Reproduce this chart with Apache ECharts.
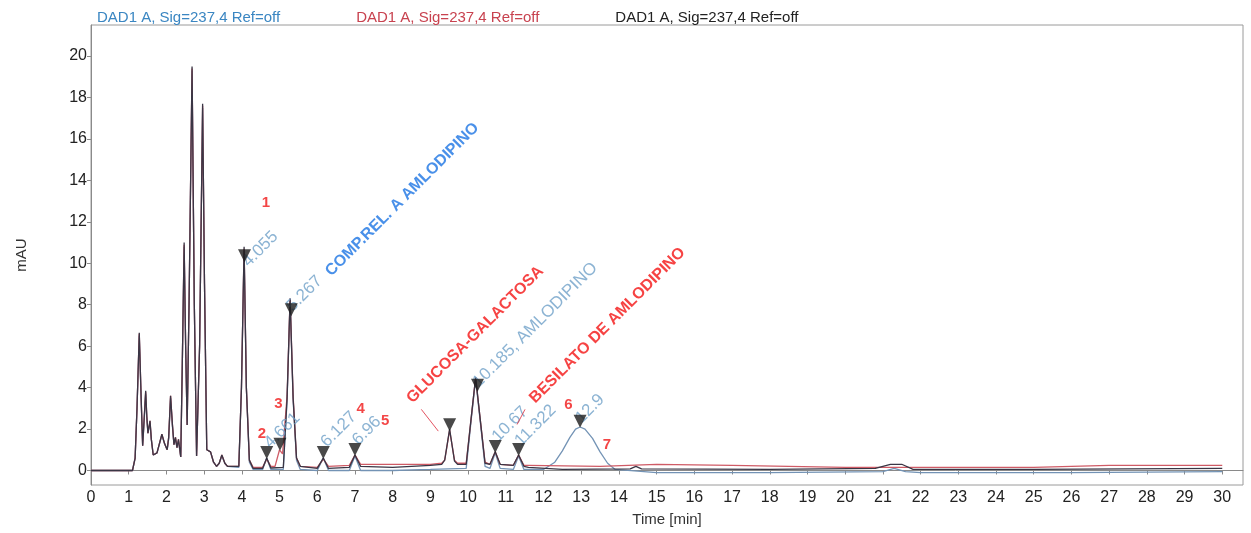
<!DOCTYPE html>
<html><head><meta charset="utf-8">
<script src="https://cdn.jsdelivr.net/npm/echarts@6/dist/echarts.min.js"></script>
<style>html,body{margin:0;padding:0;background:#fff}#c{width:1251px;height:533px}</style>
</head><body><div id="c"></div>
<script>
// ---- data (time [min], mAU) ----
const seriesNames = ['DAD1 A, Sig=237,4 Ref=off #1','DAD1 A, Sig=237,4 Ref=off #2','DAD1 A, Sig=237,4 Ref=off #3'];
const traceBlue = [[0,0],[1.1,0],[1.17,0.6],[1.22,3.0],[1.28,6.5],[1.33,3.4],[1.37,1.2],[1.41,2.4],[1.45,3.7],[1.48,2.5],[1.51,1.8],[1.565,2.3],[1.6,1.5],[1.65,0.75],[1.75,0.85],[1.88,1.7],[1.95,1.3],[2.02,1.0],[2.06,1.5],[2.11,3.5],[2.16,2.1],[2.2,1.25],[2.24,1.5],[2.28,1.1],[2.32,1.4],[2.38,0.65],[2.42,5.0],[2.47,10.8],[2.51,6.0],[2.55,2.2],[2.6,8.0],[2.68,19.3],[2.74,8.0],[2.8,0.7],[2.88,6.0],[2.96,17.5],[3.01,9.0],[3.07,1.0],[3.17,0.9],[3.25,0.4],[3.33,0.2],[3.4,0.35],[3.47,0.7],[3.55,0.35],[3.62,0.2],[3.92,0.15],[3.99,4.0],[4.06,10.6],[4.12,4.0],[4.2,0.4],[4.3,0.05],[4.55,0.05],[4.66,0.6],[4.77,0.05],[5.1,0.05],[5.2,3.4],[5.28,8.2],[5.36,3.4],[5.45,0.5],[5.55,0.05],[6.0,0.0],[6.16,0.6],[6.3,0.0],[6.85,0.0],[7.0,0.7],[7.15,0.0],[8.0,0.0],[9.0,0.05],[9.95,0.1],[10.08,2.4],[10.2,4.4],[10.32,2.4],[10.45,0.2],[10.58,0.1],[10.72,0.85],[10.85,0.1],[11.2,0.05],[11.34,0.7],[11.48,0.05],[12.0,0.05],[12.3,0.4],[12.5,0.95],[12.7,1.6],[12.85,2.0],[12.97,2.1],[13.1,2.0],[13.3,1.55],[13.5,0.9],[13.7,0.35],[13.9,0.05],[15,-0.1],[18,-0.1],[21.0,-0.05],[21.3,0.1],[21.6,-0.05],[22,-0.1],[26,-0.1],[30,-0.05]];
const traceRed = [[0,0],[1.1,0],[1.17,0.6],[1.22,3.0],[1.28,6.6],[1.33,3.5],[1.37,1.2],[1.41,2.5],[1.45,3.8],[1.48,2.6],[1.51,1.8],[1.565,2.4],[1.6,1.5],[1.65,0.75],[1.75,0.85],[1.88,1.75],[1.95,1.3],[2.02,1.0],[2.06,1.6],[2.11,3.6],[2.16,2.2],[2.2,1.25],[2.24,1.6],[2.28,1.1],[2.32,1.5],[2.38,0.65],[2.42,5.0],[2.47,10.9],[2.51,6.0],[2.55,2.2],[2.6,8.0],[2.68,19.4],[2.74,8.0],[2.8,0.7],[2.88,6.0],[2.96,17.6],[3.01,9.0],[3.07,1.0],[3.17,0.9],[3.25,0.4],[3.33,0.2],[3.4,0.35],[3.47,0.75],[3.55,0.35],[3.62,0.2],[3.92,0.2],[3.99,4.0],[4.06,10.7],[4.12,4.0],[4.2,0.5],[4.3,0.15],[4.55,0.15],[4.66,0.55],[4.77,0.2],[4.88,0.2],[5.0,1.0],[5.08,0.8],[5.2,3.6],[5.28,8.3],[5.36,3.6],[5.45,0.6],[5.55,0.2],[6.0,0.15],[6.16,0.55],[6.3,0.2],[6.85,0.25],[7.0,0.75],[7.15,0.3],[8.0,0.3],[9.0,0.3],[9.3,0.35],[9.38,0.5],[9.51,1.95],[9.64,0.5],[9.72,0.35],[9.95,0.35],[10.08,2.5],[10.2,4.5],[10.32,2.5],[10.45,0.4],[10.58,0.3],[10.72,0.9],[10.85,0.3],[11.2,0.25],[11.34,0.75],[11.48,0.25],[11.6,0.25],[13.5,0.2],[15,0.3],[17,0.25],[20,0.15],[25,0.15],[27,0.25],[30,0.25]];
const traceBlack = [[0,0],[1.1,0],[1.17,0.6],[1.22,3.0],[1.28,6.65],[1.33,3.5],[1.37,1.2],[1.41,2.5],[1.45,3.85],[1.48,2.6],[1.51,1.8],[1.565,2.4],[1.6,1.5],[1.65,0.75],[1.75,0.85],[1.88,1.75],[1.95,1.3],[2.02,1.0],[2.06,1.6],[2.11,3.6],[2.16,2.2],[2.2,1.25],[2.24,1.6],[2.28,1.1],[2.32,1.5],[2.38,0.65],[2.42,5.0],[2.47,11.0],[2.51,6.0],[2.55,2.2],[2.6,8.0],[2.68,19.5],[2.74,8.0],[2.8,0.7],[2.88,6.0],[2.96,17.7],[3.01,9.0],[3.07,1.0],[3.17,0.9],[3.25,0.4],[3.33,0.2],[3.4,0.35],[3.47,0.75],[3.55,0.35],[3.62,0.2],[3.92,0.2],[3.99,4.0],[4.06,10.8],[4.12,4.0],[4.2,0.5],[4.3,0.1],[4.55,0.1],[4.66,0.6],[4.77,0.12],[5.1,0.15],[5.2,3.5],[5.28,8.3],[5.36,3.5],[5.45,0.6],[5.55,0.2],[6.0,0.1],[6.16,0.6],[6.3,0.1],[6.85,0.15],[7.0,0.75],[7.15,0.2],[8.0,0.15],[9.0,0.25],[9.3,0.3],[9.38,0.5],[9.51,2.0],[9.64,0.45],[9.72,0.3],[9.95,0.3],[10.08,2.5],[10.2,4.5],[10.32,2.5],[10.45,0.35],[10.58,0.3],[10.72,0.9],[10.85,0.3],[11.2,0.25],[11.34,0.75],[11.48,0.2],[11.6,0.15],[12.5,0.05],[14.3,0.08],[14.45,0.2],[14.6,0.08],[18,0.05],[20.8,0.1],[21.2,0.3],[21.5,0.3],[21.8,0.05],[25,0.05],[30,0.1]];

const peakTimes   = [4.07, 4.66, 5.01, 5.31, 6.16, 7.0, 9.51, 10.25, 10.72, 11.34, 12.97];
const peakMarkerY = [10.05, 0.55, 0.95, 7.45, 0.55, 0.7, 1.9, 3.8, 0.85, 0.7, 2.06];

const rtLabelTimes = [4.14, 4.72, 5.31, 6.22, 7.05, 10.25, 10.76, 11.36, 12.97];
const rtLabelY     = [9.6, 0.85, 7.45, 0.9, 1.0, 3.8, 1.15, 0.95, 2.06];
const rtLabelText  = ['4.055','4.661','5.267','6.127','6.96','10.185, AMLODIPINO','10.67','11.322','12.9'];

const numTimes = [4.64, 4.53, 4.97, 7.15, 7.8, 12.66, 13.68];
const numY     = [12.9, 1.77, 3.24, 2.98, 2.4, 3.19, 1.26];
const numText  = ['1','2','3','4','5','6','7'];

const noteTimes = [6.31, 8.46, 11.72];
const noteY     = [9.13, 3.0, 3.0];
const noteText  = ['COMP.REL. A AMLODIPINO','GLUCOSA-GALACTOSA','BESILATO DE AMLODIPINO'];

const leaderFrom = [[8.76, 2.95],[11.51, 2.95]];
const leaderTo   = [[9.21, 1.9],[11.30, 2.22]];

const xTicks = [0,1,2,3,4,5,6,7,8,9,10,11,12,13,14,15,16,17,18,19,20,21,22,23,24,25,26,27,28,29,30];
const yTicks = [0,2,4,6,8,10,12,14,16,18,20];

// ---- chart ----
const FONT = '"Liberation Sans", Arial, sans-serif';
const colBlue = '#7393b5', colRed = '#cf5b66', colBlack = '#3a3645';
const legBlue = '#3a86c2', legRed = '#c8424f', legBlack = '#222';
const chart = echarts.init(document.getElementById('c'), null, {renderer:'canvas'});

const lineSeries = (name, data, color, z) => ({
  name, type:'line', data, showSymbol:false, symbol:'none', z,
  lineStyle:{color, width:1.3}, itemStyle:{color}, animation:false
});

chart.setOption({
  animation:false,
  textStyle:{fontFamily:FONT},
  legend:{
    left:87, top:5, itemWidth:0, itemHeight:0, itemGap:71, icon:'none', selectedMode:false,
    textStyle:{fontSize:15, fontFamily:FONT},
    formatter: n => n.replace(/ #\d$/, ''),
    data:[
      {name:seriesNames[0], textStyle:{color:legBlue}},
      {name:seriesNames[1], textStyle:{color:legRed}},
      {name:seriesNames[2], textStyle:{color:legBlack}}
    ]
  },
  grid:{left:91, right:8, top:25, bottom:48, show:true, borderColor:'#9a9a9a', borderWidth:1, containLabel:false},
  xAxis:{
    type:'value', min:0, max:30.55,
    name:'Time [min]', nameLocation:'middle', nameGap:27,
    nameTextStyle:{fontSize:15, color:'#333', fontFamily:FONT},
    axisLine:{lineStyle:{color:'#8a8a8a'}},
    axisTick:{customValues:xTicks, length:4, lineStyle:{color:'#8a8a8a'}},
    axisLabel:{customValues:xTicks, fontSize:16, color:'#222', margin:5, fontFamily:FONT},
    splitLine:{show:false}
  },
  yAxis:{
    type:'value', min:-0.7, max:21.5,
    name:'mAU', nameLocation:'middle', nameGap:62, nameRotate:90,
    nameTextStyle:{fontSize:15, color:'#333', fontFamily:FONT},
    axisLine:{show:true, lineStyle:{color:'#8a8a8a'}},
    axisTick:{show:true, customValues:yTicks, length:4, lineStyle:{color:'#8a8a8a'}},
    axisLabel:{customValues:yTicks, fontSize:16, color:'#222', margin:4, fontFamily:FONT},
    splitLine:{show:false}
  },
  series:[
    lineSeries(seriesNames[0], traceBlue, colBlue, 2),
    lineSeries(seriesNames[1], traceRed, colRed, 3),
    lineSeries(seriesNames[2], traceBlack, colBlack, 4),
    { // retention time labels (blue trace)
      name:'rt', type:'scatter', z:5, symbolSize:0, silent:true,
      data: rtLabelTimes.map((t,i)=>({value:[t, rtLabelY[i]], label:{formatter:rtLabelText[i]}})),
      label:{show:true, position:'inside', align:'left', verticalAlign:'bottom', rotate:45, offset:[4,2],
        fontSize:17, color:'#6fa0c8', fontFamily:FONT}
    },
    { // peak markers
      name:'peaks', type:'scatter', z:8, symbol:'triangle', symbolRotate:180,
      symbolSize:[13,13], symbolOffset:[0,'-50%'], silent:true,
      itemStyle:{color:'#1c1c1c'},
      data: peakTimes.map((t,i)=>[t, peakMarkerY[i]])
    },
    { // red numbers
      name:'num', type:'scatter', z:9, symbolSize:0, silent:true,
      data: numTimes.map((t,i)=>({value:[t, numY[i]], label:{formatter:numText[i]}})),
      label:{show:true, position:'inside', align:'center', verticalAlign:'middle',
        fontSize:15, fontWeight:'bold', color:'#f01818', fontFamily:FONT}
    },
    { // rotated annotations
      name:'notes', type:'scatter', z:9, symbolSize:0, silent:true,
      data: noteTimes.map((t,i)=>({value:[t, noteY[i]], label:{formatter:noteText[i], color: i===0 ? '#1b74e4' : '#f41414'}})),
      label:{show:true, position:'inside', align:'left', verticalAlign:'bottom', rotate:45, offset:[5,2],
        fontSize:16, fontWeight:'bold', fontFamily:FONT}
    },
    { // leader lines
      name:'leaders', type:'lines', coordinateSystem:'cartesian2d', z:6, silent:true,
      lineStyle:{color:'#e04050', width:1, opacity:0.9},
      data: leaderFrom.map((p,i)=>({coords:[p, leaderTo[i]]}))
    }
  ]
});
</script></body></html>
